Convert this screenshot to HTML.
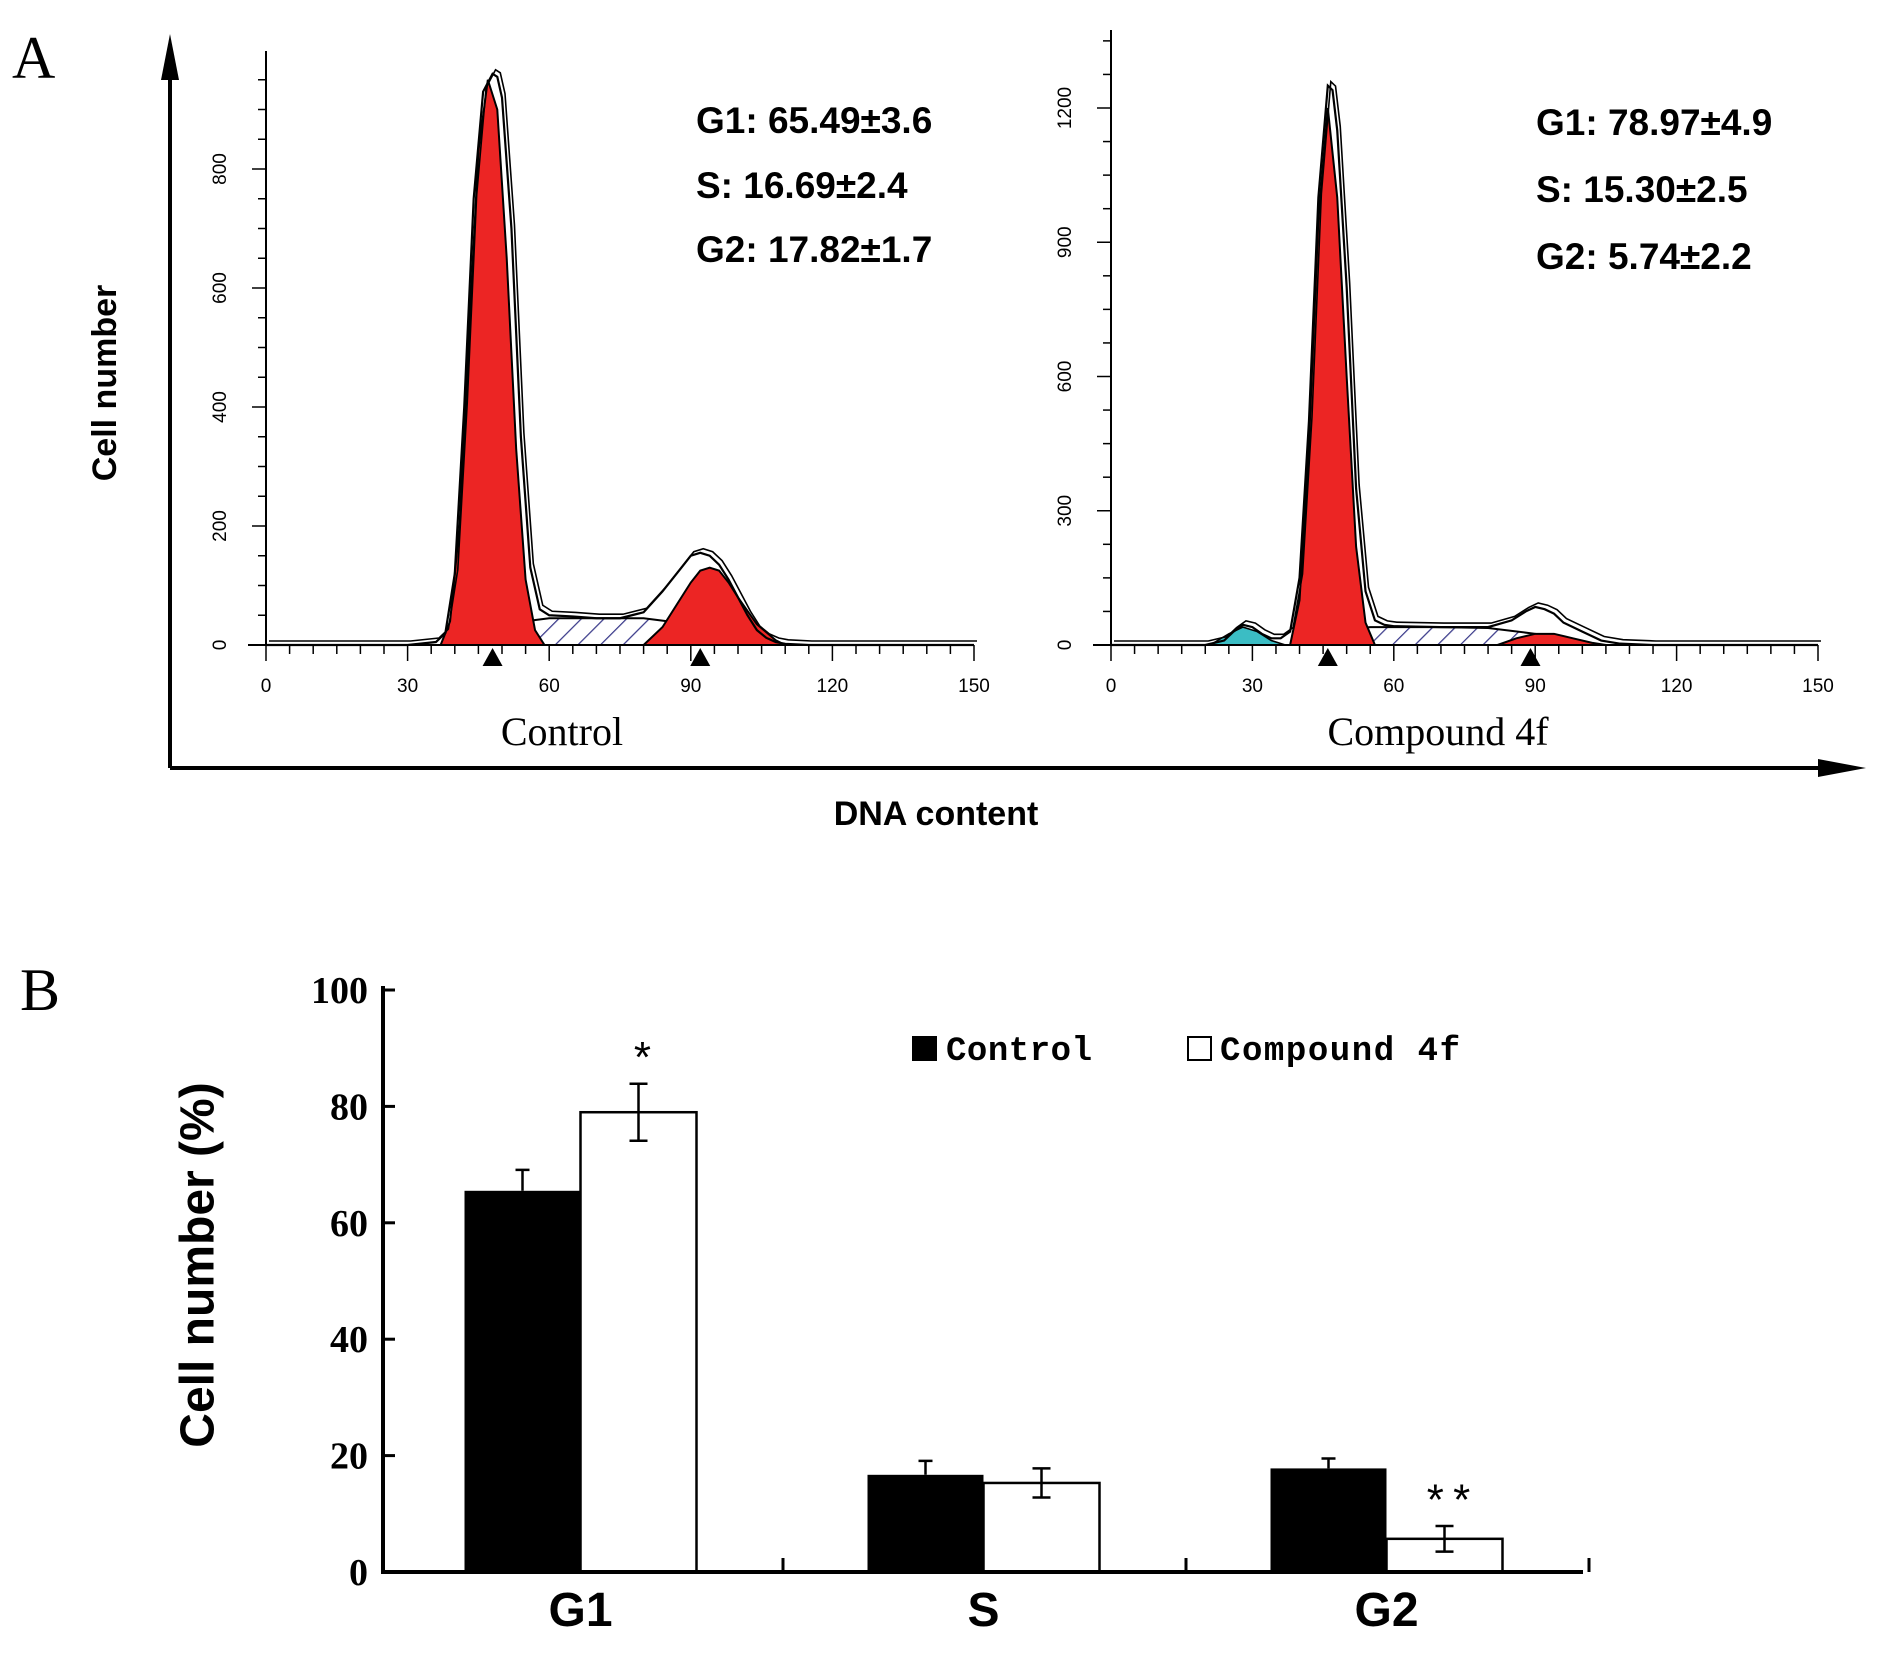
<!DOCTYPE html>
<html><head><meta charset="utf-8">
<style>
html,body{margin:0;padding:0;background:#fff;}
svg{display:block;}
</style></head>
<body>
<svg id="fig" width="1880" height="1670" viewBox="0 0 1880 1670" xmlns="http://www.w3.org/2000/svg">
<defs>
<pattern id="hatch" patternUnits="userSpaceOnUse" width="16" height="16" patternTransform="rotate(45)">
<rect width="16" height="16" fill="#fff"/>
<line x1="0" y1="0" x2="0" y2="16" stroke="#3a3a8a" stroke-width="2.5"/>
</pattern>
</defs>
<g id="panelA"></g>
<g id="panelB"></g>
</svg>
<script>
// ---------- Panel A data ----------
const ctrlDataX = [0,30,36,38,40,42,44,46,48,49,50,52,54,56,58,60,65,70,75,80,84,88,90,92,94,96,98,100,102,104,106,108,110,115,120,150];
const ctrlDataY = [0,0,5,20,120,400,750,930,960,955,920,700,350,130,60,50,48,45,45,55,90,130,150,155,150,135,110,80,50,25,12,5,2,0,0,0];
const ctrlG1X = [37,39,41,43,45,47,49,51,53,55,57,59];
const ctrlG1Y = [0,40,200,520,830,950,900,650,330,110,25,0];
const ctrlSX = [44,50,55,60,70,80,85,90,95,100,105];
const ctrlSY = [0,25,40,45,45,45,40,30,18,8,0];
const ctrlG2X = [80,84,88,90,92,94,96,98,100,104,108,110];
const ctrlG2Y = [0,30,80,105,125,130,125,105,80,35,8,0];
const ctrlMarks = [48,92];
const ctrlStats = ["G1: 65.49±3.6","S: 16.69±2.4","G2: 17.82±1.7"];
const ctrlYTicks = [0,200,400,600,800];

const cmpDataX = [0,20,24,26,28,30,32,34,36,38,40,42,44,46,47,48,50,52,54,56,58,60,70,80,85,88,90,92,94,96,100,104,108,115,150];
const cmpDataY = [0,0,10,30,45,40,25,15,15,30,150,500,1000,1250,1240,1150,800,350,120,55,45,42,40,40,55,75,85,80,70,50,30,10,3,0,0];
const cmpCyanX = [21,25,28,31,34,37];
const cmpCyanY = [0,25,40,30,10,0];
const cmpG1X = [38,40,42,44,46,48,50,52,54,56];
const cmpG1Y = [0,100,450,950,1200,1000,600,220,50,0];
const cmpSX = [40,45,50,55,60,70,80,90,95,100];
const cmpSY = [0,25,35,40,40,40,38,25,10,0];
const cmpG2X = [82,86,90,94,98,102,105];
const cmpG2Y = [0,15,25,25,15,5,0];
const cmpMarks = [46,89];
const cmpStats = ["G1: 78.97±4.9","S: 15.30±2.5","G2: 5.74±2.2"];
const cmpYTicks = [0,300,600,900,1200];
const xTicks = [0,30,60,90,120,150];

// ---------- Panel B data ----------
const categories = ["G1","S","G2"];
const controlValues = [65.5,16.7,17.8];
const controlErr = [3.6,2.4,1.7];
const compoundValues = [79.0,15.3,5.7];
const compoundErr = [4.9,2.5,2.2];
const significance = ["*","","**"];
const bTicks = [0,20,40,60,80,100];

const NS="http://www.w3.org/2000/svg";
function mk(parent,tag,attrs,text){const e=document.createElementNS(NS,tag);for(const k in attrs)e.setAttribute(k,attrs[k]);if(text!==undefined)e.textContent=text;parent.appendChild(e);return e;}

const A=document.getElementById('panelA');
let t;
t=mk(A,'text',{x:12,y:78,'font-family':'Liberation Serif, serif','font-size':60},'A');


let ax=mk(A,'path',{d:'M170,768 L170,58 M170,768 L1840,768',stroke:'#000','stroke-width':4,fill:'none'});


let ar1=mk(A,'polygon',{points:'170,34 161,80 179,80',fill:'#000'});


let ar2=mk(A,'polygon',{points:'1866,768 1818,759 1818,777',fill:'#000'});


t=mk(A,'text',{x:105,y:383,transform:'rotate(-90 105 383)','text-anchor':'middle','dominant-baseline':'central','font-family':'Liberation Sans, sans-serif','font-weight':'bold','font-size':34},'Cell number');


t=mk(A,'text',{x:936,y:825,'text-anchor':'middle','font-family':'Liberation Sans, sans-serif','font-weight':'bold','font-size':34},'DNA content');



function hist(cfg){
  const g=mk(A,'g',{});
  
  
  const x0=cfg.x0,x1=cfg.x1,y0=645,ymax=cfg.ymax,ytop=cfg.ytop;
  const sx=v=>x0+(x1-x0)*v/150;
  const sy=v=>y0-(y0-ytop)*v/ymax;
  const area=(X,Y)=>{let d='M'+sx(X[0])+','+y0;for(let i=0;i<X.length;i++)d+=' L'+sx(X[i])+','+sy(Y[i]);d+=' L'+sx(X[X.length-1])+','+y0+' Z';return d;};
  const line=(X,Y,dx,dy)=>{let d='';for(let i=0;i<X.length;i++)d+=(i?' L':'M')+(sx(X[i])+(dx||0))+','+(sy(Y[i])+(dy||0));return d;};
  let p=mk(g,'path',{d:area(cfg.sX,cfg.sY),fill:'url(#hatch)',stroke:'#000','stroke-width':2});
  
  
  if(cfg.cyanX){p=mk(g,'path',{d:area(cfg.cyanX,cfg.cyanY),fill:'#3bbdc4',stroke:'#000','stroke-width':1.5});
  
  }
  p=mk(g,'path',{d:area(cfg.g1X,cfg.g1Y),fill:'#ec2524',stroke:'#000','stroke-width':2});
  
  
  p=mk(g,'path',{d:area(cfg.g2X,cfg.g2Y),fill:'#ec2524',stroke:'#000','stroke-width':2});
  
  
  p=mk(g,'path',{d:line(cfg.dX,cfg.dY),fill:'none',stroke:'#000','stroke-width':2.2});
  
  
  p=mk(g,'path',{d:line(cfg.dX,cfg.dY,3,-4),fill:'none',stroke:'#000','stroke-width':1.6});
  
  
  p=mk(g,'path',{d:`M${x0},${cfg.axTop} L${x0},${y0} M${x0-18},${y0} L${x1},${y0}`,stroke:'#000','stroke-width':2,fill:'none'});
  
  
  for(let v=0;v<=150;v+=5){const big=v%30===0;mk(g,'line',{x1:sx(v),x2:sx(v),y1:y0,y2:y0+(big?16:9),stroke:'#000','stroke-width':1.5});}
  for(let i=0;i<xTicks.length;i++){t=mk(g,'text',{x:sx(xTicks[i]),y:692,'text-anchor':'middle','font-family':'Liberation Sans, sans-serif','font-size':19},String(xTicks[i]));
    
    }
  const step=(ymax/4)/4;
  for(let v=0;sy(v)>=cfg.axTop;v+=step){const big=(v%(ymax/4)===0);mk(g,'line',{x1:x0,x2:x0-(big?14:8),y1:sy(v),y2:sy(v),stroke:'#000','stroke-width':1.5});}
  for(let i=0;i<cfg.yTicks.length;i++){const yy=sy(cfg.yTicks[i]);t=mk(g,'text',{x:x0-40,y:yy,transform:`rotate(-90 ${x0-40} ${yy})`,'text-anchor':'middle','font-family':'Liberation Sans, sans-serif','font-size':19},String(cfg.yTicks[i]));
    
    }
  for(let i=0;i<cfg.marks.length;i++){const mx=sx(cfg.marks[i]);p=mk(g,'polygon',{points:`${mx},648 ${mx-10},666 ${mx+10},666`,fill:'#000'});
    
    }
  for(let i=0;i<cfg.stats.length;i++){t=mk(g,'text',{x:cfg.statX,y:cfg.statY[i],'font-family':'Liberation Sans, sans-serif','font-weight':'bold','font-size':37},cfg.stats[i]);
    
    }
  t=mk(g,'text',{x:cfg.titleX,y:745,'text-anchor':'middle','font-family':'Liberation Serif, serif','font-size':40},cfg.title);
  
  
}
hist({name:'control-histogram',x0:266,x1:974,ymax:800,ytop:169,axTop:51,dX:ctrlDataX,dY:ctrlDataY,g1X:ctrlG1X,g1Y:ctrlG1Y,sX:ctrlSX,sY:ctrlSY,g2X:ctrlG2X,g2Y:ctrlG2Y,marks:ctrlMarks,stats:ctrlStats,statX:696,yTicks:ctrlYTicks,title:'Control',titleX:562,statY:[133,198,262]});
hist({name:'compound-histogram',x0:1111,x1:1818,ymax:1200,ytop:108,axTop:30,dX:cmpDataX,dY:cmpDataY,cyanX:cmpCyanX,cyanY:cmpCyanY,g1X:cmpG1X,g1Y:cmpG1Y,sX:cmpSX,sY:cmpSY,g2X:cmpG2X,g2Y:cmpG2Y,marks:cmpMarks,stats:cmpStats,statX:1536,statY:[135,202,269],yTicks:cmpYTicks,title:'Compound 4f',titleX:1438});

// ---------- Panel B ----------
const B=document.getElementById('panelB');
const bx0=383,bx1=1583,by0=1572,by100=990;
const ys=v=>by0-(by0-by100)*v/100;
const groupW=403, barW=116;
const gc=i=>bx0+groupW*(i+0.5)-4;
t=mk(B,'text',{x:20,y:1010,'font-family':'Liberation Serif, serif','font-size':60},'B');


for(let i=0;i<categories.length;i++){
  let r=mk(B,'rect',{x:gc(i)-barW,y:ys(controlValues[i]),width:barW,height:by0-ys(controlValues[i]),fill:'#000'});
  
  
  r=mk(B,'rect',{x:gc(i),y:ys(compoundValues[i]),width:barW,height:by0-ys(compoundValues[i]),fill:'#fff',stroke:'#000','stroke-width':2.5});
  
  
  const cx1=gc(i)-barW/2, cx2=gc(i)+barW/2;
  let e=mk(B,'path',{d:`M${cx1},${ys(controlValues[i])} L${cx1},${ys(controlValues[i]+controlErr[i])} M${cx1-7},${ys(controlValues[i]+controlErr[i])} L${cx1+7},${ys(controlValues[i]+controlErr[i])}`,stroke:'#000','stroke-width':2.5,fill:'none'});
  
  
  const hi=ys(compoundValues[i]+compoundErr[i]), lo=ys(compoundValues[i]-compoundErr[i]);
  e=mk(B,'path',{d:`M${cx2},${hi} L${cx2},${lo} M${cx2-9},${hi} L${cx2+9},${hi} M${cx2-9},${lo} L${cx2+9},${lo}`,stroke:'#000','stroke-width':2.5,fill:'none'});
  
  
  if(significance[i]){t=mk(B,'text',{x:cx2+4,y:hi-10,'text-anchor':'middle','font-family':'Liberation Mono, monospace','font-size':44},significance[i]);
    
    }
  t=mk(B,'text',{x:gc(i),y:1626,'text-anchor':'middle','font-family':'Liberation Sans, sans-serif','font-weight':'bold','font-size':48},categories[i]);
  
  
}
let bax=mk(B,'path',{d:`M${bx0},${by100-4} L${bx0},${by0} L${bx1},${by0}`,stroke:'#000','stroke-width':4,fill:'none'});


for(let i=1;i<=3;i++){mk(B,'line',{x1:bx0+groupW*i-3,x2:bx0+groupW*i-3,y1:by0,y2:by0-14,stroke:'#000','stroke-width':3});}
for(let i=0;i<bTicks.length;i++){const y=ys(bTicks[i]);mk(B,'line',{x1:bx0,x2:bx0+12,y1:y,y2:y,stroke:'#000','stroke-width':3});
  t=mk(B,'text',{x:368,y:y+13,'text-anchor':'end','font-family':'Liberation Serif, serif','font-weight':'bold','font-size':38},String(bTicks[i]));
  
  }
t=mk(B,'text',{x:198,y:1265,transform:'rotate(-90 198 1265)','text-anchor':'middle','dominant-baseline':'central','font-family':'Liberation Sans, sans-serif','font-weight':'bold','font-size':48},'Cell number (%)');


let lg=mk(B,'g',{});


let s=mk(lg,'rect',{x:912,y:1036,width:25,height:25,fill:'#000'});


t=mk(lg,'text',{x:946,y:1060,'font-family':'Liberation Mono, monospace','font-weight':'bold','font-size':34,'textLength':146},'Control');


s=mk(lg,'rect',{x:1188,y:1037,width:23,height:23,fill:'#fff',stroke:'#000','stroke-width':2});


t=mk(lg,'text',{x:1220,y:1060,'font-family':'Liberation Mono, monospace','font-weight':'bold','font-size':34,'textLength':240},'Compound 4f');


</script>
</body></html>
